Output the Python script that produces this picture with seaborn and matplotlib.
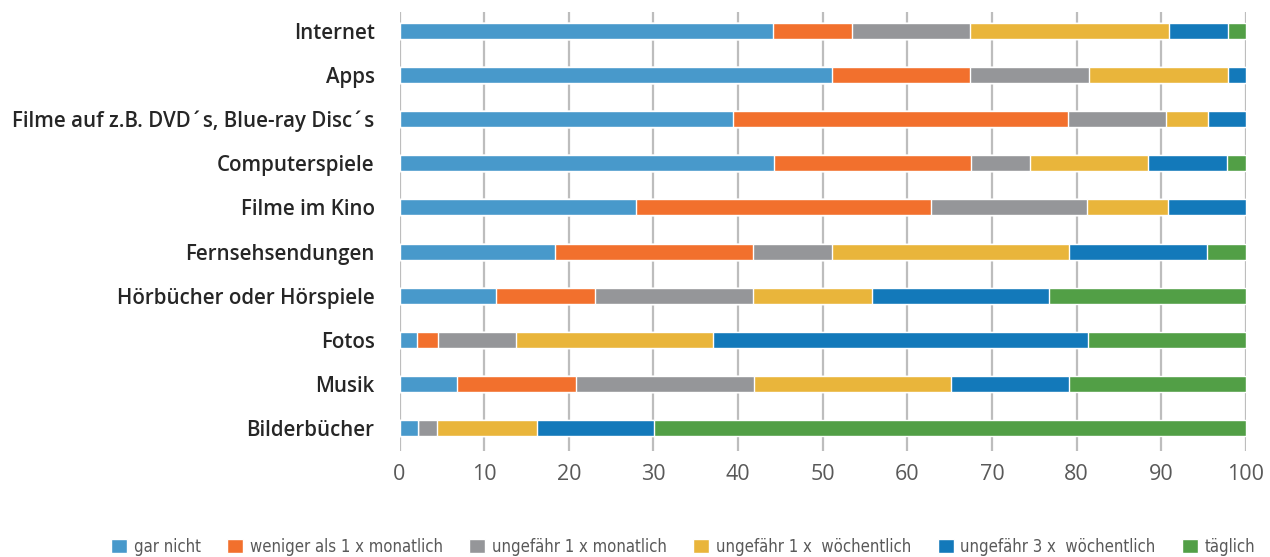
import seaborn as sns
import matplotlib.pyplot as plt
import pandas as pd
import numpy as np

# Mediennutzung - Anteile in Prozent
kategorien = ['Internet', 'Apps', 'Filme auf z.B. DVD´s, Blue-ray Disc´s', 'Computerspiele',
              'Filme im Kino', 'Fernsehsendungen', 'Hörbücher oder Hörspiele', 'Fotos',
              'Musik', 'Bilderbücher']
stufen = ['gar nicht', 'weniger als 1 x monatlich', 'ungefähr 1 x monatlich',
          'ungefähr 1 x  wöchentlich', 'ungefähr 3 x  wöchentlich', 'täglich']

gar_nicht = [44.1, 51.1, 39.4, 44.2, 27.9, 18.4, 11.4, 2.1, 6.8, 2.2]
weniger_monatlich = [9.3, 16.3, 39.6, 23.3, 34.9, 23.4, 11.7, 2.4, 14.0, 0.0]
monatlich = [14.0, 14.1, 11.5, 7.0, 18.4, 9.3, 18.7, 9.3, 21.1, 2.2]
woechentlich = [23.5, 16.4, 5.0, 13.9, 9.6, 28.0, 14.0, 23.2, 23.2, 11.8]
drei_woechentlich = [7.0, 2.1, 4.5, 9.4, 9.2, 16.3, 20.9, 44.3, 14.0, 13.9]
taeglich = [2.1, 0.0, 0.0, 2.2, 0.0, 4.6, 23.3, 18.7, 20.9, 69.9]

farben = ['#4899CB', '#F2702D', '#959699', '#E9B53B', '#1379BA', '#529F46']
xticks = [0, 10, 20, 30, 40, 50, 60, 70, 80, 90, 100]

sns.set_style("white")
plt.rcParams['font.family'] = ['Open Sans', 'DejaVu Sans']

df = pd.DataFrame({'kategorie': kategorien})
werte = [gar_nicht, weniger_monatlich, monatlich, woechentlich, drei_woechentlich, taeglich]
kumuliert = np.cumsum(np.array(werte), axis=0)
for i, s in enumerate(stufen):
    df[s] = kumuliert[i]

fig = plt.figure(figsize=(12.7, 5.57), dpi=100)
ax = fig.add_axes([0.3146, 0.1903, 0.6665, 0.7882])

# stacked bars: draw cumulative totals from the longest to the shortest
for i in range(len(stufen) - 1, -1, -1):
    sns.barplot(data=df, x=stufen[i], y='kategorie', orient='h', color=farben[i],
                width=0.36, saturation=1, ax=ax, label=stufen[i], zorder=2)

ax.set_xlim(0, 100)
ax.set_ylim(9.52, -0.43)
ax.set_xticks(xticks)
ax.set_xlabel('')
ax.set_ylabel('')
ax.grid(axis='x', color='#BDBDBD', linewidth=1.6, zorder=0)
ax.set_axisbelow(True)
for sp in ax.spines.values():
    sp.set_visible(False)
ax.tick_params(axis='y', length=0, pad=18, labelsize=14.8, labelcolor='#262626')
for t in ax.get_yticklabels():
    t.set_fontweight('semibold')
ax.tick_params(axis='x', length=0, pad=9, labelsize=15.5, labelcolor='#595959')

handles, labels = ax.get_legend_handles_labels()
handles, labels = handles[::-1], labels[::-1]
fig.legend(handles, labels, loc='center', bbox_to_anchor=(0.538, 0.018), ncol=6,
           frameon=False, handlelength=0.95, handleheight=0.95, handletextpad=0.4,
           columnspacing=1.6,
           prop={'family': ['DejaVu Sans'], 'size': 12, 'stretch': 'condensed'},
           labelcolor='#595959')
if ax.get_legend() is not None:
    ax.get_legend().remove()

fig.savefig('out.png', dpi=100)
